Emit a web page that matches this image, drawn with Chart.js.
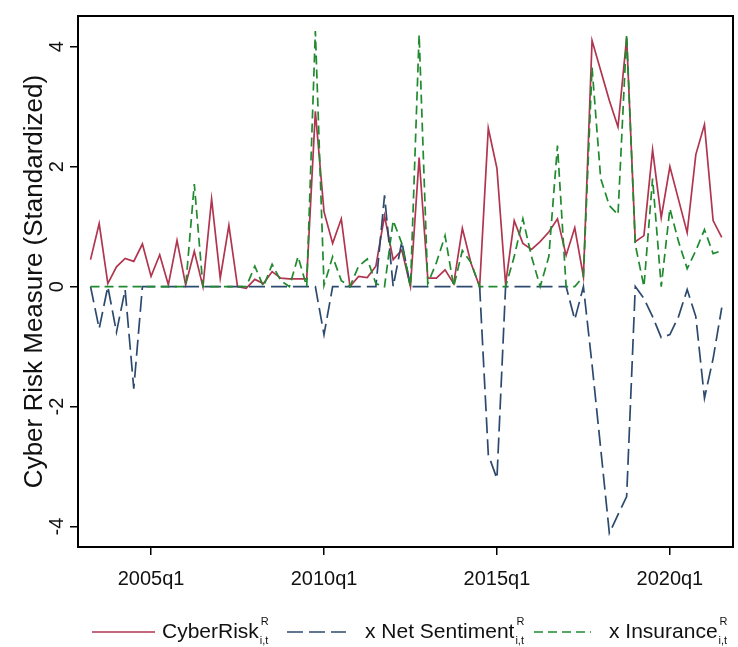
<!DOCTYPE html>
<html>
<head>
<meta charset="utf-8">
<script src="https://cdn.jsdelivr.net/npm/chart.js@4"></script>
<style>
  html, body { margin: 0; padding: 0; background: #fff; }
</style>
</head>
<body>
<canvas id="riskChart" width="738" height="647"></canvas>
<script>
// quarters run from 2003q2 to 2021q3
const startYear = 2003;
const startQuarter = 2;

// CyberRisk (solid), x Net Sentiment (long dash), x Insurance (dash)
const cyberRisk = [
  0.45, 1.05, 0.05, 0.33, 0.47, 0.42, 0.71, 0.17, 0.53, 0.03,
  0.77, 0.03, 0.59, 0.00, 1.46, 0.14, 1.02, 0.00, -0.03, 0.12,
  0.05, 0.25, 0.14, 0.13, 0.13, 0.13, 2.92, 1.25, 0.72, 1.13,
  0.00, 0.17, 0.15, 0.34, 1.18, 0.45, 0.61, 0.00, 2.15, 0.14,
  0.14, 0.28, 0.05, 0.97, 0.39, 0.00, 2.64, 1.97, 0.04, 1.10,
  0.72, 0.62, 0.75, 0.91, 1.13, 0.52, 0.98, 0.17, 4.10, 3.60,
  3.10, 2.66, 4.15, 0.75, 0.85, 2.28, 1.15, 2.00, 1.45, 0.90,
  2.20, 2.70, 1.10, 0.82
];
const netSentiment = [
  0, -0.70, 0, -0.76, -0.05, -1.70, 0, 0, 0, 0,
  0, 0, 0, 0, 0, 0, 0, 0, 0, 0,
  0, 0, 0, 0, 0, 0, 0, -0.80, 0, 0,
  0, 0, 0, 0, 1.52, 0, 0.75, 0, 0, 0,
  0, 0, 0, 0, 0, 0, -2.80, -3.20, 0, 0,
  0, 0, 0, 0, 0, 0, -0.55, 0, -1.30, -2.70,
  -4.11, -3.80, -3.50, 0, -0.20, -0.50, -0.85, -0.80, -0.50, -0.05,
  -0.50, -1.86, -1.20, -0.35
];
const insurance = [
  0, 0, 0, 0, 0, 0, 0, 0, 0, 0,
  0, 0, 1.71, 0, 0, 0, 0, 0, 0, 0.34,
  0, 0.37, 0.10, 0, 0.50, 0, 4.26, 0.02, 0.50, 0.10,
  0, 0.34, 0.46, 0.05, 0, 1.10, 0.72, 0, 4.20, 0.05,
  0.40, 0.85, 0, 0.60, 0.40, 0, 0, 0, 0, 0.50,
  1.13, 0.50, 0, 0.50, 2.35, 0, 0, 0.17, 3.65, 1.80,
  1.35, 1.20, 4.20, 0.70, 0, 1.80, 0, 1.30, 0.75, 0.30,
  0.60, 0.95, 0.55, 0.60
];

const xTickLabels = ['2005q1', '2010q1', '2015q1', '2020q1'];
const yTicks = [-4, -2, 0, 2, 4];

const FONT = "'Liberation Sans', Arial, sans-serif";

// quarter labels like 2003q2
let quarters = [];
for (let i = 0; i < cyberRisk.length; i++) {
  const q = startQuarter - 1 + i;
  quarters.push((startYear + Math.floor(q / 4)) + 'q' + (q % 4 + 1));
}

function toPoints(arr) {
  return arr.map((v, i) => ({ x: i, y: v }));
}

// frame around the plot region, like stata
const framePlugin = {
  id: 'frame',
  afterDatasetsDraw(chart) {
    const a = chart.chartArea;
    const ctx = chart.ctx;
    ctx.save();
    ctx.strokeStyle = '#000';
    ctx.lineWidth = 2;
    ctx.strokeRect(a.left, a.top, a.right - a.left, a.bottom - a.top);
    ctx.restore();
  }
};

// legend with superscript R and subscript i,t
const legendPlugin = {
  id: 'stataLegend',
  afterDraw(chart) {
    const ctx = chart.ctx;
    const y = 632;
    const spots = [
      { x0: 92, x1: 155, tx: 162 },
      { x0: 287, x1: 346, tx: 365 },
      { x0: 534, x1: 591, tx: 609 }
    ];
    chart.data.datasets.forEach((ds, k) => {
      const s = spots[k];
      ctx.save();
      ctx.strokeStyle = ds.borderColor;
      ctx.lineWidth = ds.borderWidth;
      ctx.setLineDash(ds.borderDash || []);
      ctx.beginPath();
      ctx.moveTo(s.x0, y);
      ctx.lineTo(s.x1, y);
      ctx.stroke();
      ctx.restore();

      ctx.save();
      ctx.fillStyle = '#111';
      ctx.textBaseline = 'middle';
      ctx.font = '21px ' + FONT;
      ctx.fillText(ds.label, s.tx, y);
      const w = ctx.measureText(ds.label).width;
      ctx.font = '11px ' + FONT;
      ctx.fillText('R', s.tx + w + 2, y - 10);
      ctx.fillText('i,t', s.tx + w + 1, y + 9);
      ctx.restore();
    });
  }
};

const chart = new Chart(document.getElementById('riskChart'), {
  type: 'line',
  data: {
    datasets: [
      {
        label: 'CyberRisk',
        data: toPoints(cyberRisk),
        borderColor: '#b0354f',
        borderWidth: 1.7,
        pointRadius: 0,
        tension: 0,
        order: 2
      },
      {
        label: 'x Net Sentiment',
        data: toPoints(netSentiment),
        borderColor: '#2c4a6e',
        borderWidth: 1.7,
        borderDash: [16, 6],
        pointRadius: 0,
        tension: 0,
        order: 1
      },
      {
        label: 'x Insurance',
        data: toPoints(insurance),
        borderColor: '#1f8a2e',
        borderWidth: 1.7,
        borderDash: [9, 5],
        pointRadius: 0,
        tension: 0,
        order: 0
      }
    ]
  },
  options: {
    responsive: false,
    animation: false,
    layout: { padding: { left: 0, right: 5, top: 10, bottom: 0 } },
    plugins: {
      legend: { display: false },
      tooltip: { enabled: false }
    },
    scales: {
      x: {
        type: 'linear',
        min: -1.45,
        max: 74.3,
        afterFit(scale) { scale.height = 100; },
        afterBuildTicks(scale) {
          scale.ticks = xTickLabels.map(l => ({ value: quarters.indexOf(l) }));
        },
        ticks: {
          color: '#111',
          font: { size: 20, family: FONT },
          padding: 12,
          maxRotation: 0,
          autoSkip: false,
          callback: (v) => quarters[v]
        },
        grid: { drawOnChartArea: false, drawTicks: true, tickLength: 8, color: '#000', lineWidth: 1.5 },
        border: { display: true, color: '#000', width: 2 }
      },
      y: {
        min: -4.34,
        max: 4.51,
        afterFit(scale) { scale.width = 78; },
        afterBuildTicks(scale) {
          scale.ticks = yTicks.map(v => ({ value: v }));
        },
        ticks: {
          color: '#111',
          font: { size: 20, family: FONT },
          minRotation: 90,
          maxRotation: 90,
          crossAlign: 'center',
          padding: 4,
          autoSkip: false
        },
        title: {
          display: true,
          text: 'Cyber Risk Measure (Standardized)',
          color: '#111',
          font: { size: 26, family: FONT },
          padding: { top: 19, bottom: 0 }
        },
        grid: { drawOnChartArea: false, drawTicks: true, tickLength: 8, color: '#000', lineWidth: 1.5 },
        border: { display: true, color: '#000', width: 2 }
      }
    }
  },
  plugins: [framePlugin, legendPlugin]
});
</script>
</body>
</html>
